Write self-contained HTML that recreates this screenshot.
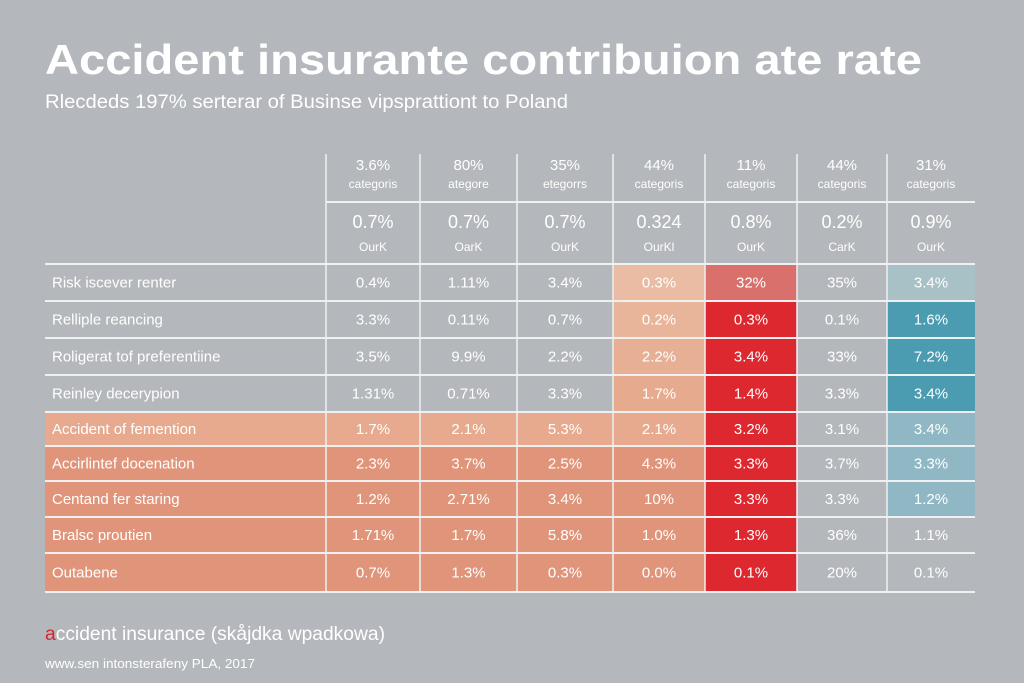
<!DOCTYPE html>
<html><head><meta charset="utf-8"><style>
body{margin:0;background:#b4b7bb;}
svg{display:block;font-family:"Liberation Sans",sans-serif;}
</style></head><body>
<svg id="chart" width="1024" height="683" viewBox="0 0 1024 683">
<rect width="1024" height="683" fill="#b4b7bb"/>
<text x="45" y="74" fill="#fff" font-size="42" font-weight="bold" textLength="877" lengthAdjust="spacingAndGlyphs">Accident insurante contribuion ate rate</text>
<text x="45" y="108" fill="#fff" font-size="19" textLength="523" lengthAdjust="spacingAndGlyphs">Rlecdeds 197% serterar of Businse vipsprattiont to Poland</text>
<g id="grid"></g>
<text x="45" y="640" fill="#fff" font-size="19" textLength="340" lengthAdjust="spacingAndGlyphs"><tspan fill="#d8242c">a</tspan>ccident insurance (skåjdka wpadkowa)</text>
<text x="45" y="668" fill="#fff" font-size="13" textLength="210" lengthAdjust="spacingAndGlyphs">www.sen intonsterafeny PLA, 2017</text>
</svg>
<script>
const headTop = ["3.6%","80%","35%","44%","11%","44%","31%"];
const headSub = ["categoris","ategore","etegorrs","categoris","categoris","categoris","categoris"];
const headVal = ["0.7%","0.7%","0.7%","0.324","0.8%","0.2%","0.9%"];
const headUnit = ["OurK","OarK","OurK","OurKl","OurK","CarK","OurK"];
const rowLabels = ["Risk iscever renter","Relliple reancing","Roligerat tof preferentiine","Reinley decerypion","Accident of femention","Accirlintef docenation","Centand fer staring","Bralsc proutien","Outabene"];
const values = [
 ["0.4%","1.11%","3.4%","0.3%","32%","35%","3.4%"],
 ["3.3%","0.11%","0.7%","0.2%","0.3%","0.1%","1.6%"],
 ["3.5%","9.9%","2.2%","2.2%","3.4%","33%","7.2%"],
 ["1.31%","0.71%","3.3%","1.7%","1.4%","3.3%","3.4%"],
 ["1.7%","2.1%","5.3%","2.1%","3.2%","3.1%","3.4%"],
 ["2.3%","3.7%","2.5%","4.3%","3.3%","3.7%","3.3%"],
 ["1.2%","2.71%","3.4%","10%","3.3%","3.3%","1.2%"],
 ["1.71%","1.7%","5.8%","1.0%","1.3%","36%","1.1%"],
 ["0.7%","1.3%","0.3%","0.0%","0.1%","20%","0.1%"]
];
const colX=[326,420,517,613,705,797,887,975];
const rowY=[264,301,338,375,412,446,481,517,553,592];
const NS="http://www.w3.org/2000/svg";
const g=document.getElementById('grid');
function mk(t,a){const e=document.createElementNS(NS,t);for(const k in a)e.setAttribute(k,a[k]);g.appendChild(e);return e;}
function cellColor(r,c){
  if(c===4) return r===0?"#d9706c":"#de2830";
  if(c===6){ if(r===0) return "#a8c1c7"; if(r<=3) return "#4b9bb1"; if(r<=6) return "#90b8c4"; return null;}
  if(c===5) return null;
  if(r===4) return "#e7aa8f";
  if(r>=5) return "#e0957a";
  if(c===3) return ["#e9bca3","#e8b59a","#e7b094","#e6ab8f"][r];
  return null;
}
// row label backgrounds
for(let r=0;r<rowLabels.length;r++){
  const bg=r===4?"#e7aa8f":(r>=5?"#e0957a":null);
  if(bg){const e=mk('rect',{x:45,y:rowY[r],width:colX[0]-45,height:rowY[r+1]-rowY[r],fill:bg});
    }
  for(let c=0;c<7;c++){
    const col=cellColor(r,c);
    if(col){const e=mk('rect',{x:colX[c],y:rowY[r],width:colX[c+1]-colX[c],height:rowY[r+1]-rowY[r],fill:col});
      }
  }
}
// lines
for(let i=0;i<rowY.length;i++){
  const e=mk('line',{x1:45,x2:975,y1:rowY[i],y2:rowY[i],stroke:"#eef0f2","stroke-width":2});
  
}
{const e=mk('line',{x1:326,x2:975,y1:202,y2:202,stroke:"#eef0f2","stroke-width":2});
 }
for(let c=0;c<colX.length-1;c++){
  const e=mk('line',{x1:colX[c],x2:colX[c],y1:154,y2:592,stroke:"#eef0f2","stroke-width":1.5});
  
}
function txt(x,y,s,size,anchor,name){
  const e=mk('text',{x:x,y:y,fill:"#fff","font-size":size,"text-anchor":anchor});
  e.textContent=s;
  
  
  return e;
}
for(let c=0;c<7;c++){
  const cx=(colX[c]+colX[c+1])/2;
  txt(cx,170,headTop[c],15,'middle','column-header-value');
  txt(cx,188,headSub[c],12,'middle','column-header-category');
  txt(cx,228,headVal[c],18,'middle','column-base-rate');
  txt(cx,251,headUnit[c],12,'middle','column-unit');
}
for(let r=0;r<rowLabels.length;r++){
  const cy=(rowY[r]+rowY[r+1])/2+5;
  txt(52,cy,rowLabels[r],15,'start','row-label');
  for(let c=0;c<7;c++){
    txt((colX[c]+colX[c+1])/2,cy,values[r][c],15,'middle','cell-value');
  }
}
</script>
</body></html>
